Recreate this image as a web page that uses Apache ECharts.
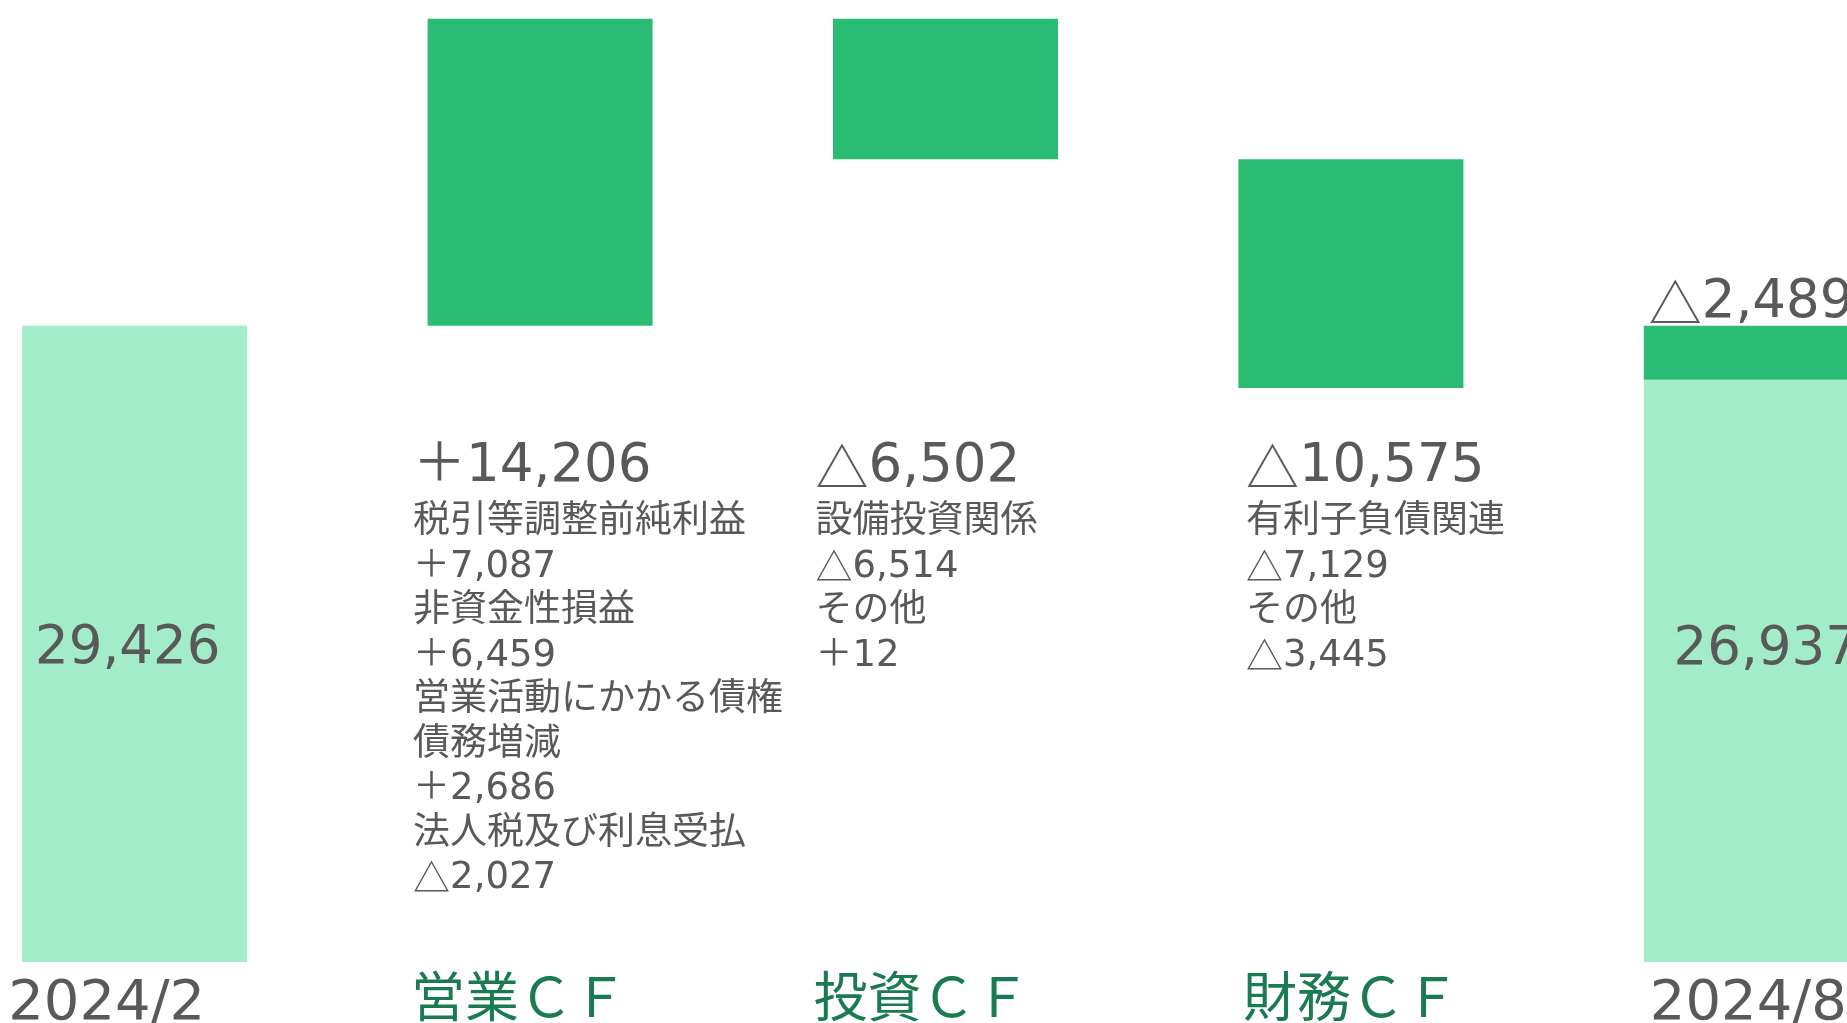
<!DOCTYPE html>
<html>
<head>
<meta charset="utf-8">
<script src="https://cdn.jsdelivr.net/npm/echarts@6/dist/echarts.min.js"></script>
<style>
  html, body { margin: 0; padding: 0; background: #fff; }
  #chart { width: 1847px; height: 1023px; }
</style>
</head>
<body>
<div id="chart"></div>
<script>
const categories = ['2024/2', '営業ＣＦ', '投資ＣＦ', '財務ＣＦ', '2024/8']
const startCash = 29426
const endCash = 26937
const cfTotals = [14206, -6502, -10575]

// breakdown of each cash flow
const opNames = ['税引等調整前純利益', '非資金性損益', '営業活動にかかる債権\n債務増減', '法人税及び利息受払']
const opValues = [7087, 6459, 2686, -2027]
const invNames = ['設備投資関係', 'その他']
const invValues = [-6514, 12]
const finNames = ['有利子負債関連', 'その他']
const finValues = [-7129, -3445]

const FONT = "'DejaVu Sans', 'Noto Sans CJK JP', sans-serif"
const CJK = "'Noto Sans CJK JP', sans-serif"
const GRAY = '#595959'
const DARK = '#2bbc74'
const LIGHT = '#a3ecca'
const CAT_GREEN = '#1a7b50'

const comma = (n) => String(Math.abs(n)).replace(/\B(?=(\d{3})+(?!\d))/g, ',')
// rich text: the triangle is drawn from the CJK font, like the original
const signed = (n, s) => n < 0 ? `{${s}T|△}{${s}|${comma(n)}}` : `{${s}|＋${comma(n)}}`

// waterfall: transparent base under each cash flow bar
let running = startCash
const base = [0]
const delta = [0]
cfTotals.forEach(v => {
  base.push(Math.min(running, running + v))
  delta.push(Math.abs(v))
  running += v
})
base.push(0)
delta.push(startCash - endCash)
const cash = [startCash, 0, 0, 0, endCash]

const breakdown = [null, [opNames, opValues], [invNames, invValues], [finNames, finValues], null]

const blockText = (total, [names, values]) => {
  const lines = [signed(total, 'big')]
  names.forEach((n, i) => {
    n.split('\n').forEach(s => lines.push(`{txt|${s}}`))
    lines.push(signed(values[i], 'txt'))
  })
  return lines.join('\n')
}

const textRich = {
  big: { fontFamily: FONT, fontSize: 53, lineHeight: 65, color: GRAY },
  bigT: { fontFamily: CJK, fontSize: 53, lineHeight: 65, color: GRAY },
  txt: { fontFamily: FONT, fontSize: 37, lineHeight: 44.5, color: GRAY },
  txtT: { fontFamily: CJK, fontSize: 37, lineHeight: 44.5, color: GRAY }
}

// layout tweaks (px)
const catShift = [28, 21, 24, 0, 8]
const blockShift = [0, -127, -130, -105, 0]
const yMax = 44500
const labelAnchor = 24370 // y value where the breakdown text starts

const rich = {}
categories.forEach((c, i) => {
  const isDate = i === 0 || i === categories.length - 1
  rich['c' + i] = {
    fontFamily: FONT,
    fontSize: isDate ? 56 : 54,
    color: isDate ? GRAY : CAT_GREEN,
    padding: [0, catShift[i] * 2, 0, 0]
  }
})

const option = {
  animation: false,
  grid: { left: -68, right: -112, top: 0, bottom: 61, outerBoundsMode: 'none', containLabel: false },
  xAxis: {
    type: 'category',
    data: categories,
    axisLine: { show: false },
    axisTick: { show: false },
    axisLabel: {
      interval: 0,
      margin: 14,
      formatter: (v, i) => `{c${i}|${v}}`,
      rich
    }
  },
  yAxis: { type: 'value', min: 0, max: yMax, show: false, splitLine: { show: false } },
  series: [
    {
      type: 'bar', stack: 'w', barWidth: 225, silent: true,
      itemStyle: { color: 'rgba(0,0,0,0)' },
      data: base
    },
    {
      type: 'bar', stack: 'w', barWidth: 225,
      itemStyle: { color: LIGHT },
      label: {
        show: false, position: 'inside', fontFamily: FONT, fontSize: 53, color: GRAY,
        formatter: (p) => comma(p.value)
      },
      data: cash.map((v, i) => {
        if (i === 0) return { value: v, label: { show: true, offset: [-7, 5] } }
        if (i === 4) return { value: v, label: { show: true, offset: [10, -21] } }
        return v
      })
    },
    {
      type: 'bar', stack: 'w', barWidth: 225,
      itemStyle: { color: DARK },
      label: { show: false, color: GRAY, rich: textRich },
      data: delta.map((v, i) => i === 4 ? {
        value: v,
        label: {
          show: true, position: [5, 10], align: 'left', verticalAlign: 'bottom',
          formatter: signed(endCash - startCash, 'big')
        }
      } : v)
    },
    {
      type: 'scatter', silent: true, symbolSize: 1,
      itemStyle: { color: 'rgba(0,0,0,0)' },
      label: {
        show: true, position: 'inside', align: 'left', verticalAlign: 'top',
        color: GRAY, opacity: 1, textBorderWidth: 0,
        rich: textRich
      },
      data: breakdown.map((b, i) => b ? {
        value: labelAnchor,
        label: { offset: [blockShift[i], 0], formatter: blockText(cfTotals[i - 1], b) }
      } : '-')
    }
  ]
}

const chart = echarts.init(document.getElementById('chart'))
chart.setOption(option)
</script>
</body>
</html>
